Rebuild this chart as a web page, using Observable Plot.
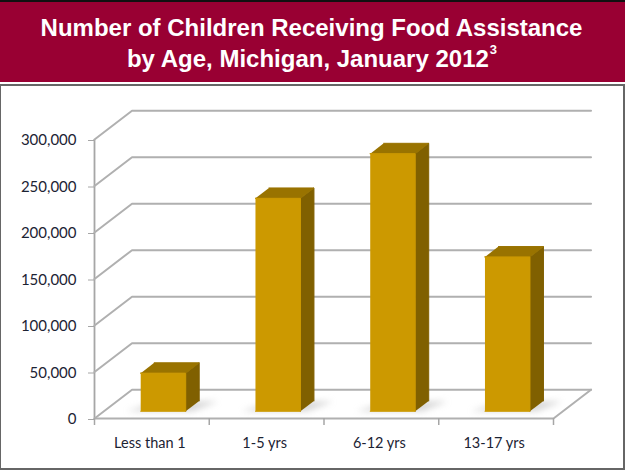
<!DOCTYPE html>
<html>
<head>
<meta charset="utf-8">
<script src="https://cdn.jsdelivr.net/npm/d3@7"></script>
<script src="https://cdn.jsdelivr.net/npm/@observablehq/plot@0.6"></script>
<style>
  html, body { margin: 0; padding: 0; background: #fff; }
  body { position: relative; width: 630px; height: 471px; overflow: hidden; }
  #banner { position: absolute; left: 0; top: 0; width: 625px; height: 80px; border-top: 2px solid #111; background: #990033;
    color: #fff; font: bold 24px/31px "Liberation Sans", Arial, sans-serif; text-align: center; }
  #banner div { position: relative; top: 10px; left: -1px; }
  #banner sup { font-size: 13px; line-height: 0; vertical-align: baseline; position: relative; top: -13px; left: 1px; }
  #frame { position: absolute; left: 0; top: 84px; width: 622px; height: 382px; border: 2px solid #666; border-left-width: 1px; }
  #chart { position: absolute; left: 0; top: 84px; }
</style>
</head>
<body>
<div id="banner"><div>Number of Children Receiving Food Assistance<br>by Age, Michigan, January 2012<sup>3</sup></div></div>
<div id="frame"></div>
<div id="chart"></div>
<script>
const categories = ["Less than 1", "1-5 yrs", "6-12 yrs", "13-17 yrs"];
const values = [41000, 229000, 277000, 166000];
const yTicks = [0, 50000, 100000, 150000, 200000, 250000, 300000];
const xTicks = [0, 1, 2, 3, 4];

// Oblique projection of the chart's depth axis, in data units
const depthX = 0.327, depthY = 31000;
const project = (i, v, d) => ({x: i + d * depthX, y: v + d * depthY});
const barHalf = 0.196, barShift = 0.017, barD0 = 0.25, barD1 = 0.61;

const gridPaths = yTicks.flatMap(t => [
  {t, ...project(0, t, 0)},
  {t, ...project(0, t, 1)},
  {t, ...project(4, t, 1)}
]);
const floorFront = [project(0, 0, 0), project(4, 0, 0), project(4, 0, 1)];

const faces = [];
const shadows = [];
values.forEach((v, k) => {
  const c = k + 0.5 + barShift, a = c - barHalf, b = c + barHalf;
  const add = (face, pts) => pts.forEach(p => faces.push({id: k + face, face, ...p}));
  add("side", [project(b, 0, barD0), project(b, v, barD0), project(b, v, barD1), project(b, 0, barD1)]);
  add("top", [project(a, v, barD0), project(b, v, barD0), project(b, v, barD1), project(a, v, barD1)]);
  add("front", [project(a, 0, barD0), project(b, 0, barD0), project(b, v, barD0), project(a, v, barD0)]);
  [project(a - 0.12, 0, barD0), project(b + 0.06, 0, barD0), project(b + 0.17, 0, barD1 - 0.02), project(a + 0.05, 0, barD1 - 0.02)]
    .forEach(p => shadows.push({id: k, ...p}));
});

const faceColor = {front: "#CC9900", top: "#997300", side: "#806000"};

const chart = Plot.plot({
  width: 630,
  height: 387,
  marginLeft: 94,
  marginRight: 77,
  marginTop: 55,
  marginBottom: 53,
  style: {background: "transparent", fontFamily: "Lato, 'Open Sans', sans-serif", overflow: "visible"},
  x: {type: "linear", domain: [0, 4], axis: null},
  y: {type: "linear", domain: [0, 300000], axis: null},
  marks: [
    Plot.ruleX([0], {y1: 0, y2: 300000, stroke: "#a6a6a6", strokeWidth: 1.8}),
    Plot.line(gridPaths, {x: "x", y: "y", z: "t", stroke: "#b0b0b0", strokeWidth: 2, curve: "linear"}),
    Plot.line(floorFront, {x: "x", y: "y", stroke: "#b0b0b0", strokeWidth: 2}),
    Plot.line(shadows, {x: "x", y: "y", z: "id", fill: "#999999", fillOpacity: 0.4, stroke: "none", imageFilter: "blur(3px)"}),
    Plot.line(faces, {x: "x", y: "y", z: "id", fill: d => faceColor[d.face], stroke: d => faceColor[d.face], strokeWidth: 1, strokeLinejoin: "round"}),
    Plot.axisY(yTicks, {tickFormat: d3.format(","), tickSize: 6, tickPadding: 12, fontSize: 15, dy: 1, stroke: "#a6a6a6", fill: "#1c2333", label: null}),
    Plot.axisX(xTicks, {tickFormat: () => "", tickSize: 7, stroke: "#a6a6a6", strokeWidth: 1.5, label: null}),
    Plot.text(categories, {x: (d, i) => i + 0.5, y: () => 0, dy: 25, dx: -2, text: d => d, fontSize: 14.5, fill: "#1c2333"})
  ]
});
document.getElementById("chart").append(chart);
</script>
</body>
</html>
